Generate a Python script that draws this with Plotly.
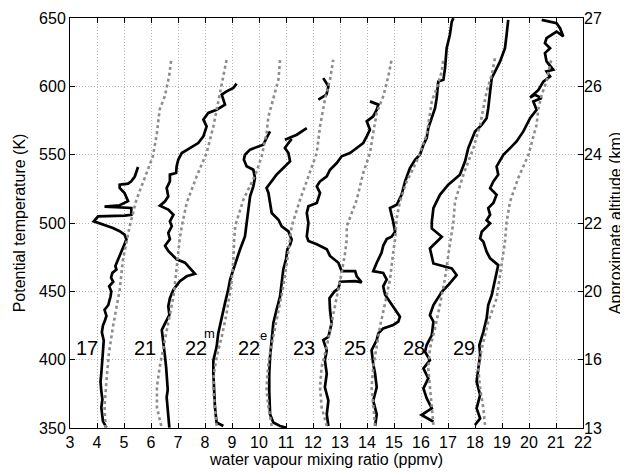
import plotly.graph_objects as go

# ---------------- data (potential temperature K, water vapour ppmv) ----------------
flights = ["17", "21", "22", "22", "23", "25", "28", "29"]
flight_sup = ["", "", "m", "e", "", "", "", ""]
label_x = [3.63, 5.78, 7.65, 9.63, 11.67, 13.56, 15.73, 17.6]
label_theta = [408.6, 408.6, 408.6, 408.6, 408.6, 408.6, 408.6, 408.6]
sup_x = [None, None, 8.17, 10.15, None, None, None, None]
sup_theta = [None, None, 419.0, 418.0, None, None, None, None]

# measured profiles
wv_17 = [4.35, 4.22, 4.16, 4.2, 4.16, 4.13, 4.16, 4.2, 4.22, 4.25, 4.18, 4.22, 4.3, 4.35, 4.28, 4.42, 4.47, 4.5, 4.53,
         4.45, 4.6, 4.52, 4.57, 4.72, 4.68, 4.84, 4.96, 5.09, 5.02, 4.84, 4.59, 4.22, 3.98, 3.88, 4.04, 4.59, 5.02,
         5.27, 5.27, 4.28, 4.84, 5.15, 5.02, 4.84, 4.84, 5.15, 5.27, 5.40, 5.46, 5.52]
th_17 = [350.3, 355, 365, 371, 377, 384, 390, 400, 408, 414, 420, 425, 429, 432, 436.5, 440, 444, 446, 450,
         453.7, 457, 460, 463.5, 466, 468.5, 476, 483, 488, 491.5, 494, 496.3, 498.8, 500, 501.2, 504.9, 504.9, 505.4,
         506, 511, 512, 513, 516, 522, 525.6, 528, 528.8, 530.5, 534, 537.8, 541]

wv_21 = [6.68, 6.64, 6.58, 6.62, 6.60, 6.56, 6.52, 6.43, 6.40, 6.52, 6.68, 6.64, 6.70, 6.83, 7.07, 7.32, 7.63,
         7.44, 7.26, 6.95, 6.64, 6.52, 6.70, 6.64, 6.77, 6.70, 6.83, 6.64, 6.33, 6.52, 6.64, 6.58, 6.70, 6.70,
         6.93, 6.95, 7.01, 7.14, 7.44, 7.75, 7.94, 8.06, 7.94, 8.12, 8.43, 8.74, 8.62, 8.80, 9.05, 9.17]
th_21 = [350.2, 360, 372.4, 378, 384.7, 394.6, 402, 414.3, 421.7, 426.6, 432.8, 439, 445, 451.2, 457.4, 461, 462.8,
         467, 471, 473.4, 479.6, 483.3, 488.2, 492.7, 497.6, 501.2, 506, 509.8, 512.7, 515.9, 519.5, 525.6, 530.5,
         535.4, 536.6, 541.5, 546.3, 551.2, 554.9, 558.5, 563.4, 570.7, 575.6, 580.5, 582.9, 586.6, 593.9, 596.3,
         598.8, 602]

wv_22m = [8.68, 8.43, 8.37, 8.33, 8.31, 8.31, 8.43, 8.49, 8.62, 8.74, 8.86, 8.93, 9.05, 9.17, 9.30, 9.48, 9.54,
          9.60, 9.67, 9.79, 9.85, 9.79, 9.54, 9.44, 9.48, 9.67, 9.97, 10.16, 10.28, 10.41]
th_22m = [351.5, 354, 365, 377.3, 389.7, 399.5, 409.4, 419.2, 431.5, 441.4, 451.2, 458.6, 466, 473.4, 480.8, 490.2,
          500, 509.8, 519.5, 526.8, 532.9, 539, 541.5, 546.3, 550, 553.7, 555.6, 557.3, 562.2, 567.1]

wv_22e = [11.02, 10.78, 10.53, 10.41, 10.38, 10.38, 10.41, 10.47, 10.53, 10.65, 10.78, 10.84, 10.90, 11.0, 11.05,
          11.15, 11.21, 11.09, 10.84, 10.72, 10.47, 10.41, 10.35, 10.28, 10.41, 10.65, 10.90, 11.15, 11.09, 10.96,
          11.09, 11.21, None, 10.96, 11.4, 11.77, None, 12.2, 12.5, 12.57, 12.38]
th_22e = [350.2, 351.5, 354, 360, 377.3, 389.7, 402, 414.3, 426.6, 436.5, 446.3, 456.2, 466, 473.4, 480.8,
          484, 487.8, 493.9, 497.6, 502.4, 507.3, 514.6, 522, 525.6, 529.3, 535.4, 540.2, 545.1, 551.2, 554.9,
          558.5, 561.5, None, 561, 564.6, 569.5, None, 590.2, 594, 600, 606]

wv_23 = [12.57, 12.51, 12.57, 12.44, 12.51, 12.44, 12.51, 12.38, 12.57, 12.69, 12.63, 12.61, 12.8, 12.94, 13.0,
         13.56, 13.80, 13.62, 13.56, 13.06, 12.94, 12.63, 12.51, 12.14, 11.83, 11.77, 11.83, 11.77, 11.83, 12.14,
         12.26, 12.14, 12.26, 12.51, 12.63, 12.88, 13.06, 13.37, 13.62, 13.86, 13.99, 14.11, 13.99, 14.23, 14.36,
         14.42, 14.11]
th_23 = [351.5, 360, 370, 379.8, 389.7, 399.5, 406.9, 414.3, 416.7, 426.6, 436.5, 445, 450, 452, 457,
         457.4, 456.5, 461, 464.8, 464.8, 470.9, 475.9, 480.8, 484.5, 486.9, 490.2, 500, 507.3, 512.2, 514.6,
         522, 526.8, 530.5, 534.1, 539, 543.9, 548.8, 551.2, 554.9, 558.5, 563.4, 568.3, 574.4, 578, 582.9,
         586.6, 589]

wv_25 = [14.30, 14.36, 14.23, 14.36, 14.30, 14.23, 14.17, 14.36, 14.42, 14.6, 14.97, 15.16, 15.22, 15.10, 14.97,
         14.85, 14.67, 14.6, 14.73, 14.6, 14.23, 14.36, 14.54, 14.6, 14.73, 14.91, 15.04, 14.97, 14.85, 15.1,
         15.28, 15.41, 15.59, 15.78, 15.96, 16.09, 16.21, 16.27, 16.4, 16.52, 16.58, 16.64, 16.83, 16.89, 16.95,
         17.07, 17.14, 17.2]
th_25 = [351.5, 360, 370, 379.8, 389.7, 397, 406.9, 414.3, 419.2, 422.9, 425.4, 427.8, 431.5, 435.2, 438.9,
         442.6, 447.5, 453.7, 458.6, 463.5, 464.8, 470.9, 478.3, 483.3, 488.2, 490, 493.6, 500.9, 511, 513.3,
         520.6, 530.4, 540.2, 546.2, 549.9, 557.2, 562.1, 569.4, 576.7, 584, 591.3, 603.5, 604.8, 613.3, 627.9,
         637.7, 647.4, 649.9]

wv_28 = [16.46, 16.02, 16.21, 16.4, 16.21, 16.09, 16.27, 16.09, 16.33, 16.15, 16.21, 16.4, 16.46, 16.33, 16.46,
         16.77, 17.01, 17.32, 17.14, 16.46, 16.33, 16.64, 16.77, 16.4, 16.4, 16.46, 16.7, 17.01, 17.44, 17.63,
         17.75, 18.0, 18.25, 18.43, 18.49, 18.56, 18.62, 18.93, 19.11, 19.17, 19.23]
th_28 = [354.6, 359.5, 362, 364.4, 371.7, 379, 386.3, 393.6, 399.7, 405.8, 410.7, 418, 427.8, 432.6, 440,
         449.7, 454.6, 461.9, 466.8, 470.4, 481.4, 487.5, 489.9, 496, 500.9, 510.9, 520.6, 528, 535.3, 545,
         554.8, 567, 571.8, 576.7, 584, 596.2, 606, 618.2, 627.9, 637.7, 648.6]

wv_29 = [18.0, 18.19, 18.06, 18.19, 18.06, 18.12, 18.19, 18.16, 18.31, 18.43, 18.49, 18.62, 18.74, 18.86, 18.56,
         18.43, 18.31, 18.19, 18.25, 18.56, 18.43, 18.56, 18.49, 18.68, 18.8, 18.56, 18.68, 18.86, 18.8, 19.05,
         19.30, 19.54, 19.79, 20.04, 20.28, 20.16, 20.47, 20.22, 20.04, 20.35, 20.53, 20.78, 20.65, 20.9, 20.65,
         20.59, 20.78, 20.59, 20.65, 21.02, 21.27, 21.15, 21.02, 20.78, 20.47]
th_29 = [352.2, 357, 364.4, 374.1, 383.9, 393.6, 403.4, 410.7, 420.4, 430.2, 440, 447.3, 459.5, 469.2, 474.1,
         479, 486.3, 488.7, 493.6, 499.7, 502, 506, 510.9, 514.6, 520.6, 525.5, 530.4, 535.3, 541.4, 549.9,
         554.8, 559.7, 567, 576.7, 582.8, 588.9, 591.4, 593.8, 591.8, 597.4, 603.5, 607.2, 610.9, 612.1, 618.2,
         624.3, 627.9, 631.6, 635.2, 640.1, 636.5, 642.5, 646.2, 647.4, 648.6]

# reference profiles (grey dotted)
ref_wv_17 = [4.32, 4.28, 4.35, 4.44, 4.59, 4.72, 4.84, 4.96, 5.11, 5.21, 5.46, 5.83, 6.07, 6.22, 6.32, 6.51, 6.67, 6.75]
ref_th_17 = [350, 365, 384.7, 404.4, 424, 439, 451, 473, 488, 497.6, 517, 536.6, 548.8, 565.9, 583, 592.7, 607.3, 619.5]

ref_wv_21 = [6.38, 6.22, 6.22, 6.32, 6.51, 6.70, 6.83, 6.93, 7.0, 7.06, 7.14, 7.32, 7.69, 8.06, 8.31, 8.43, 8.62, 8.74, 8.80]
ref_th_21 = [351.5, 365, 380, 394.6, 414, 431.5, 446, 463.5, 478, 488, 497.6, 514.6, 534.1, 551.2, 570.7, 582.9, 600,
             614.6, 619.5]

ref_wv_22m = [8.43, 8.37, 8.31, 8.33, 8.43, 8.62, 8.80, 8.98, 9.05, 9.08, 9.12, 9.42, 9.88, 10.1, 10.28, 10.35, 10.53,
              10.72, 10.78]
ref_th_22m = [351.5, 365, 377.3, 389.7, 402, 416.7, 434, 456, 473, 488, 498, 517, 536, 548.8, 565.9, 578, 590.2,
              604.9, 619.5]

ref_wv_22e = [10.47, 10.35, 10.28, 10.31, 10.38, 10.53, 10.72, 10.90, 11.05, 11.15, 11.21, 11.52, 11.89, 12.14,
              12.26, 12.44, 12.63, 12.75]
ref_th_22e = [351.5, 365, 377.3, 389.7, 402, 416.7, 434, 453.7, 473.4, 488.2, 497.6, 517, 536.6, 551.2, 570.7,
              590.2, 604.9, 619.5]

ref_wv_23 = [12.51, 12.32, 12.26, 12.32, 12.51, 12.69, 12.88, 13.06, 13.19, 13.25, 13.25, 13.62, 13.86, 14.11,
             14.23, 14.36, 14.60, 14.79, 14.91]
ref_th_23 = [351.5, 365, 379.8, 394.6, 409.4, 426.6, 443.8, 463.5, 478.3, 488.2, 497.6, 517, 536.6, 551.2, 565.9,
             580.5, 592.7, 607.3, 619.5]

ref_wv_25 = [14.30, 14.23, 14.17, 14.23, 14.36, 14.48, 14.67, 14.85, 14.97, 15.04, 15.1, 15.22, 15.47, 15.84,
             16.21, 16.33, 16.4, 16.58, 16.77, 16.83]
ref_th_25 = [351.5, 365, 379.8, 394.6, 409.4, 424.1, 441.4, 458.6, 478.3, 488.2, 503.6, 515.8, 530.4, 545,
             564.5, 579.2, 588.9, 598.7, 610.9, 620.6]

ref_wv_28 = [16.46, 16.4, 16.33, 16.27, 16.33, 16.52, 16.7, 16.89, 17.01, 17.14, 17.2, 17.26, 17.57, 17.94,
             18.19, 18.31, 18.43, 18.62, 18.74]
ref_th_28 = [352.2, 364.4, 379, 393.6, 408.3, 422.9, 440, 459.5, 476.5, 493.6, 500.9, 515.8, 535.3, 554.8,
             571.8, 584, 596.2, 608.4, 620.6]

ref_wv_29 = [18.37, 18.31, 18.19, 18.12, 18.25, 18.49, 18.8, 18.99, 19.11, 19.17, 19.30, 19.6, 19.98, 20.28,
             20.35, 20.47, 20.65, 20.78, 20.84]
ref_th_29 = [352.2, 364.4, 379, 393.6, 408.3, 427.8, 444.8, 469.2, 486.3, 500.9, 515.8, 532.8, 549.9, 571.8,
             584, 593.8, 603.5, 615.7, 620.6]

theta_ticks = [350, 400, 450, 500, 550, 600, 650]
altitude_labels = ["13", "16", "20", "22", "24", "26", "27"]
x_ticks = list(range(3, 23))

measured = [(wv_17, th_17), (wv_21, th_21), (wv_22m, th_22m), (wv_22e, th_22e),
            (wv_23, th_23), (wv_25, th_25), (wv_28, th_28), (wv_29, th_29)]
reference = [(ref_wv_17, ref_th_17), (ref_wv_21, ref_th_21), (ref_wv_22m, ref_th_22m), (ref_wv_22e, ref_th_22e),
             (ref_wv_23, ref_th_23), (ref_wv_25, ref_th_25), (ref_wv_28, ref_th_28), (ref_wv_29, ref_th_29)]

FONT = "Liberation Sans, Arial, Helvetica, sans-serif"

fig = go.Figure()
for wv, th in measured:
    fig.add_trace(go.Scatter(x=wv, y=th, mode="lines", line=dict(color="black", width=2.7),
                             connectgaps=False, showlegend=False, hoverinfo="skip"))
for wv, th in reference:
    fig.add_trace(go.Scatter(x=wv, y=th, mode="lines", line=dict(color="#8c8c8c", width=2.6, dash="dot"),
                             showlegend=False, hoverinfo="skip"))
# helper trace so the right-hand altitude axis is drawn
fig.add_trace(go.Scatter(x=[None], y=[None], yaxis="y2", showlegend=False, hoverinfo="skip"))

for i, name in enumerate(flights):
    fig.add_annotation(x=label_x[i], y=label_theta[i], text=name, showarrow=False,
                       font=dict(family=FONT, size=20, color="black"), xanchor="center", yanchor="middle")
    if flight_sup[i]:
        fig.add_annotation(x=sup_x[i], y=sup_theta[i], text=flight_sup[i], showarrow=False,
                           font=dict(family=FONT, size=13, color="black"), xanchor="center", yanchor="middle")

grid = dict(showgrid=True, gridcolor="#b4b4b4", griddash="1px,2px", gridwidth=1)
fig.update_layout(
    width=628, height=472,
    margin=dict(l=62, r=53, t=10, b=52),
    plot_bgcolor="white", paper_bgcolor="white",
    font=dict(family=FONT, size=16, color="black"),
    xaxis=dict(range=[3, 22], tickvals=x_ticks, ticks="inside", ticklen=5, tickcolor="black",
               showline=True, linecolor="black", linewidth=1, mirror="ticks", zeroline=False,
               automargin=False,
               title=dict(text="water vapour mixing ratio (ppmv)", standoff=2, font=dict(size=16)),
               tickfont=dict(size=16), **grid),
    yaxis=dict(range=[350, 650], tickvals=theta_ticks, ticks="inside", ticklen=5, tickcolor="black",
               showline=True, linecolor="black", linewidth=1, mirror=True, zeroline=False,
               automargin=False,
               title=dict(text="Potential temperature (K)", standoff=9, font=dict(size=16)),
               tickfont=dict(size=16), **grid),
    yaxis2=dict(range=[350, 650], overlaying="y", side="right", anchor="x",
                tickvals=theta_ticks, ticktext=altitude_labels, ticks="inside", ticklen=5, tickcolor="black",
                showline=False, showgrid=False, zeroline=False, automargin=False,
                title=dict(text="Approximate altitude (km)", standoff=8, font=dict(size=16)),
                tickfont=dict(size=16)),
)

fig.write_html("out.html")
